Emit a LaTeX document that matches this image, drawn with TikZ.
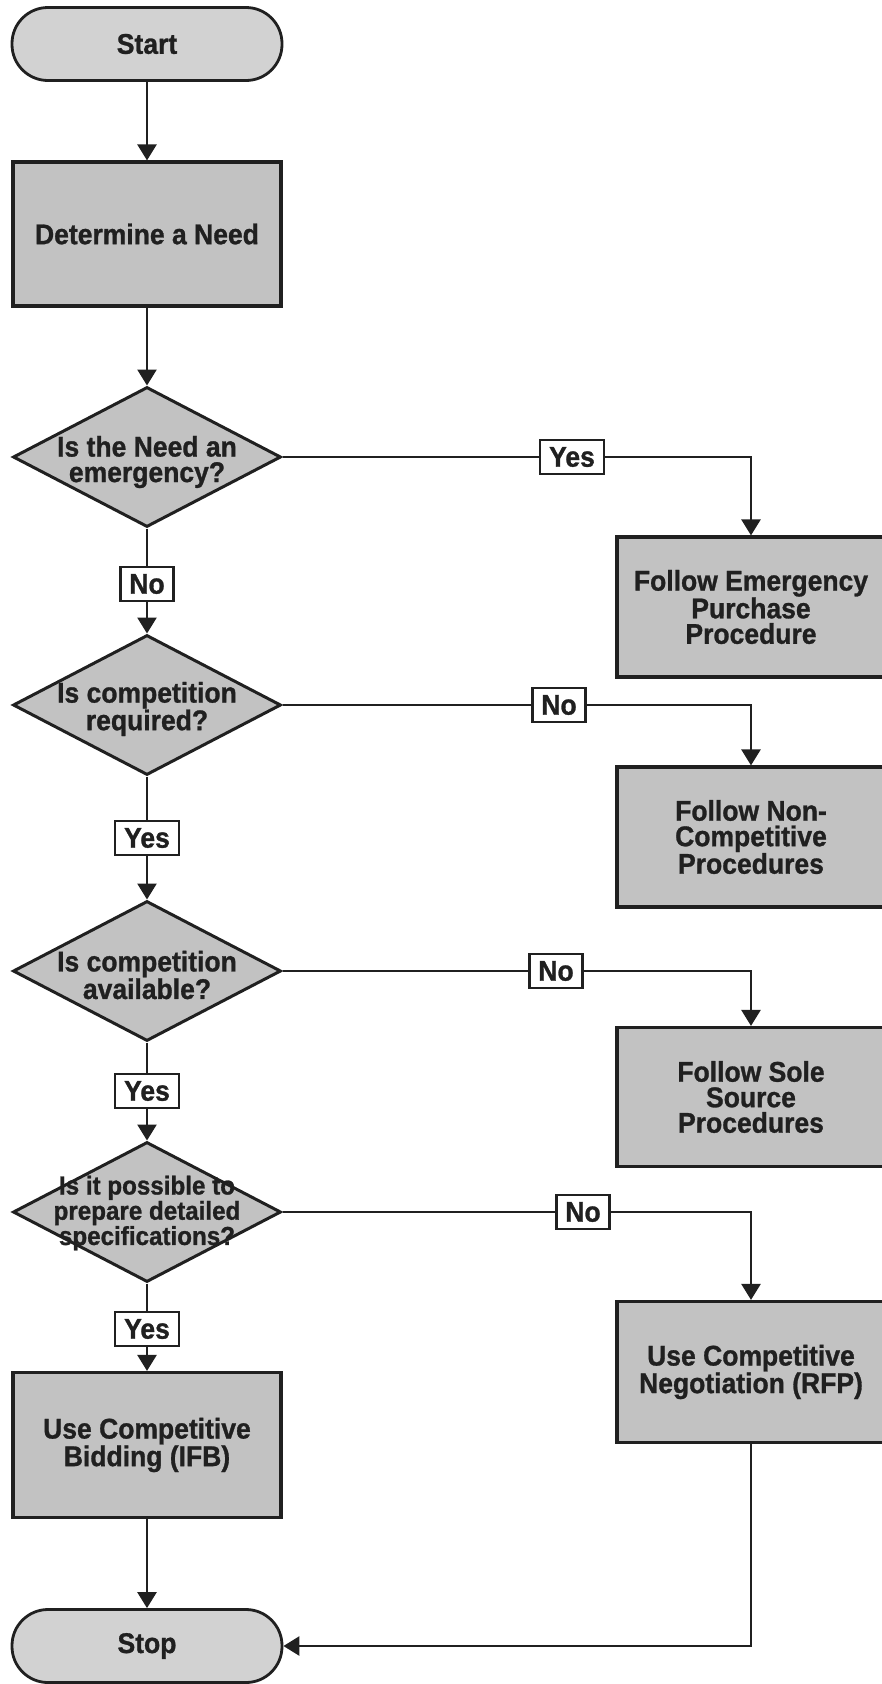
\documentclass[tikz,border=0pt]{standalone}
\usepackage{fontspec}
\setmainfont{Liberation Sans}[FakeStretch=0.93, BoldFeatures={FakeBold=1}]
\usepackage{tikz}
\usetikzlibrary{positioning, arrows.meta, shapes.geometric}

\definecolor{ink}{HTML}{202020}
\definecolor{boxgray}{HTML}{C2C2C2}
\definecolor{termgray}{HTML}{D2D2D2}

\begin{document}
\begin{tikzpicture}[x=1pt, y=-1pt,
  every node/.style={font=\bfseries\fontsize{28.5}{25.5}\selectfont, text=ink, align=center},
  term/.style={draw=ink, line width=2.8pt, fill=termgray, rounded corners=36pt, minimum width=270pt, minimum height=73pt},
  proc/.style={draw=ink, line width=3.2pt, fill=boxgray, minimum width=268pt, minimum height=144pt},
  sideproc/.style={proc, minimum width=268pt, minimum height=140pt},
  decide/.style={diamond, draw=ink, line width=3pt, fill=boxgray, inner sep=0pt, minimum width=268pt, minimum height=140pt},
  answer/.style={draw=ink, line width=2.4pt, fill=white, inner xsep=9pt, inner ysep=0pt, minimum height=34pt},
  link/.style={draw=ink, line width=2.6pt},
  flow/.style={link, -{Triangle[width=19pt,length=16pt]}}
]
% page
\fill[white] (0,0) rectangle (881,1684);
\useasboundingbox (0,0) rectangle (881,1684);

% left column
\node[term] (start) at (147,44) {Start};
\node[proc] (need) at (147,234) {Determine a Need};

\node[decide] (q1) at (147,457) {};
\node (q1txt) at (147,462) {Is the Need an\\emergency?};
\node[answer] (yes1) at (572,457) {Yes};
\node[answer] (no1) at (147,584) {No};

\node[decide] (q2) at (147,705) {};
\node (q2txt) at (147,709) {Is competition\\required?};
\node[answer] (no2) at (559,705) {No};
\node[answer] (yes2) at (147,838) {Yes};

\node[decide] (q3) at (147,971) {};
\node (q3txt) at (147,975) {Is competition\\available?};
\node[answer] (no3) at (556,971) {No};
\node[answer] (yes3) at (147,1091) {Yes};

\node[decide] (q4) at (147,1212) {};
\node[font=\bfseries\fontsize{26}{23}\selectfont] (q4txt) at (147,1213) {Is it possible to\\prepare detailed\\specifications?};
\node[answer] (no4) at (583,1212) {No};
\node[answer] (yes4) at (147,1329) {Yes};

\node[proc, minimum height=145pt] (ifb) at (147,1445) {Use Competitive\\Bidding (IFB)};
\node[term] (stop) at (147,1646) {Stop};

% right column
\node[sideproc] (emerg) at (751,607) {Follow Emergency\\Purchase\\Procedure};
\node[sideproc] (noncomp) at (751,837) {Follow Non-\\Competitive\\Procedures};
\node[sideproc, minimum height=139pt] (sole) at (751,1097) {Follow Sole\\Source\\Procedures};
\node[sideproc, minimum height=141pt] (rfp) at (751,1372) {Use Competitive\\Negotiation (RFP)};

% connectors
\draw[flow] (start) -- (need);
\draw[flow] (need) -- (q1.north);

\draw[link] (q1.east) -- (yes1);
\draw[flow] (yes1) -| (emerg);
\draw[link] (q1.south) -- (no1);
\draw[flow] (no1) -- (q2.north);

\draw[link] (q2.east) -- (no2);
\draw[flow] (no2) -| (noncomp);
\draw[link] (q2.south) -- (yes2);
\draw[flow] (yes2) -- (q3.north);

\draw[link] (q3.east) -- (no3);
\draw[flow] (no3) -| (sole);
\draw[link] (q3.south) -- (yes3);
\draw[flow] (yes3) -- (q4.north);

\draw[link] (q4.east) -- (no4);
\draw[flow] (no4) -| (rfp);
\draw[link] (q4.south) -- (yes4);
\draw[flow] (yes4) -- (ifb);

\draw[flow] (ifb) -- (stop);
\draw[flow] (rfp) |- (stop);
\end{tikzpicture}
\end{document}
